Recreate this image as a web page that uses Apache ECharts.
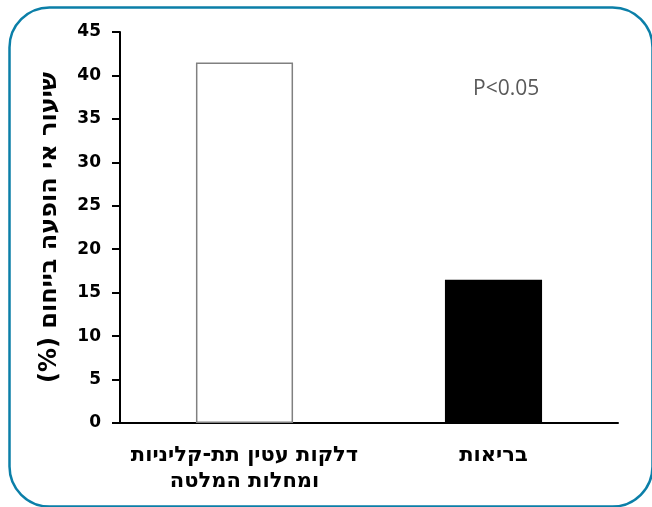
<!DOCTYPE html>
<html>
<head>
<meta charset="utf-8">
<script src="https://cdn.jsdelivr.net/npm/echarts@6/dist/echarts.min.js"></script>
<style>
html,body{margin:0;padding:0;background:#fff;}
#c{width:652px;height:507px;}
</style>
</head>
<body>
<div id="c" dir="rtl"></div>
<script>
const categories = ['דלקות עטין תת-קליניות\nומחלות המלטה', 'בריאות'];
const values = [41.5, 16.5];
const barColors = ['#ffffff', '#000000'];
const barBorders = ['#808080', '#000000'];
const yTicks = { min: 0, max: 45, interval: 5 };
const yTitle = 'שיעור אי הופעה בייחום (%)';
const pText = 'P<0.05';

const chart = echarts.init(document.getElementById('c'), null, { renderer: 'canvas' });
chart.setOption({
  animation: false,
  backgroundColor: '#ffffff',
  grid: { left: 120, right: 34, top: 32, bottom: 84, containLabel: false },
  xAxis: {
    type: 'category',
    data: categories,
    axisLine: { lineStyle: { color: '#000', width: 2 } },
    axisTick: { show: false },
    axisLabel: {
      color: '#000', fontSize: 21, fontWeight: 'bold',
      fontFamily: 'DejaVu Sans, sans-serif',
      margin: 20, lineHeight: 26, interval: 0
    }
  },
  yAxis: {
    type: 'value',
    min: yTicks.min, max: yTicks.max, interval: yTicks.interval,
    name: yTitle,
    nameLocation: 'middle',
    nameRotate: 90,
    nameGap: 58,
    nameTextStyle: { color: '#000', fontSize: 24, fontWeight: 'bold', fontFamily: 'DejaVu Sans, sans-serif' },
    axisLine: { show: true, lineStyle: { color: '#000', width: 2 } },
    axisTick: { show: true, length: 8, lineStyle: { color: '#000', width: 2 } },
    splitLine: { show: false },
    axisLabel: { color: '#000', fontSize: 17, fontWeight: 'bold', fontFamily: 'DejaVu Sans, sans-serif', margin: 19 }
  },
  series: [{
    type: 'bar',
    barWidth: '39%',
    data: values.map((v, i) => ({
      value: v,
      itemStyle: { color: barColors[i], borderColor: barBorders[i], borderWidth: 1.5 }
    }))
  }],
  graphic: [
    {
      type: 'rect', left: 7, top: 5, silent: true,
      shape: { width: 643, height: 499, r: 40 },
      style: { fill: 'none', stroke: '#0b7fa8', lineWidth: 2.5 }
    },
    {
      type: 'text', left: 473, top: 79,
      style: { text: pText, fill: '#595959', fontSize: 21, fontFamily: 'Open Sans, Liberation Sans, sans-serif' }
    }
  ]
});
</script>
</body>
</html>
